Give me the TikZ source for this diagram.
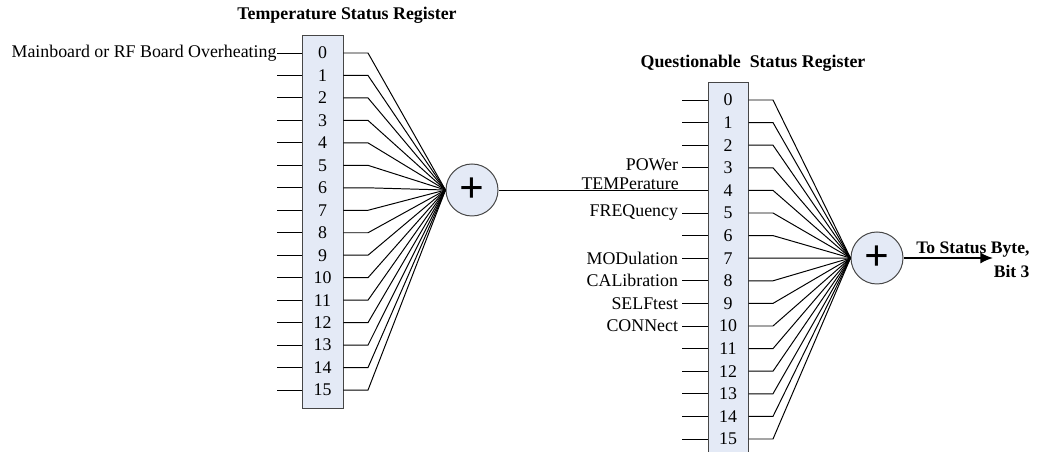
\documentclass[tikz,border=0pt]{standalone}
\usepackage{fontspec}
\setmainfont{Liberation Serif}
\usetikzlibrary{arrows.meta}
\definecolor{regfill}{RGB}{228,234,246}
\definecolor{regline}{RGB}{70,70,70}

\begin{document}
\begin{tikzpicture}[x=0.025cm, y=-0.025cm, line width=0.7pt,
    regbox/.style={draw=regline, fill=regfill, inner sep=0pt},
    bit/.style={inner sep=0pt, font=\fontsize{12.7}{14}\selectfont},
    sum/.style={circle, draw=regline, fill=regfill, minimum size=1.3cm, inner sep=0pt, font=\fontsize{31}{31}\selectfont\bfseries},
    title/.style={font=\fontsize{12.7}{14}\selectfont\bfseries},
    srclabel/.style={anchor=east, inner sep=2.5pt, font=\fontsize{12.7}{14}\selectfont}]
  \useasboundingbox (0,0) rectangle (1042,452);

  % temperature register
  \node[title] (ttitle) at (347,15) {Temperature Status Register};
  \node[regbox, minimum width=1.025cm, minimum height=9.3cm] (treg) at (322.5,222) {};
  \node[sum] (tsum) at (472,190) {+};
  \foreach \i in {0,...,15} {
    \node[bit] (t\i) at (322.5,{53+22.47*\i}) {\i};
    \coordinate (tin\i) at (277,{53+22.47*\i});
    \coordinate (tout\i) at (368,{53+22.47*\i});
    \draw (tin\i) -- (tin\i -| treg.west);
    \draw (tout\i -| treg.east) -- (tout\i) -- (tsum.west);
  }
  \node[srclabel, inner sep=0pt] (tl0) at (tin0) {Mainboard or RF Board Overheating};

  % questionable register
  \node[title] (qtitle) at (753,63) {Questionable\ \ Status Register};
  \node[regbox, minimum width=1cm, minimum height=9.35cm] (qreg) at (728,270) {};
  \node[sum] (qsum) at (877,258) {+};
  \foreach \i in {0,...,15} {
    \node[bit] (q\i) at (728,{100+22.6*\i}) {\i};
    \coordinate (qin\i) at (682,{100+22.6*\i});
    \coordinate (qout\i) at (773,{100+22.6*\i});
    \ifnum\i=4
      \draw (tsum.east) -- (tsum.east -| qreg.west);
    \else
      \draw (qin\i) -- (qin\i -| qreg.west);
    \fi
    \draw (qout\i -| qreg.east) -- (qout\i) -- (qsum.west);
  }
  \foreach \i/\txt in {5/FREQuency,7/MODulation,8/CALibration,9/SELFtest,10/CONNect}
    \node[srclabel] (ql\i) at (qin\i) {\txt};
  \node[srclabel, yshift=2pt] (ql3) at (qin3) {POWer};
  \node[srclabel, anchor=south east, inner sep=0pt, xshift=-2pt] (ql4) at (qin4) {TEMPerature};

  % output
  \coordinate (qend) at (993,258);
  \draw[line width=1.5pt, -{Latex[length=9pt,width=8pt]}] (qsum.east) -- (qend);
  \node[align=right, anchor=east, inner sep=0pt, font=\fontsize{12.5}{17}\selectfont\bfseries] (stb) at (1030,260) {To Status Byte,\\Bit 3};
\end{tikzpicture}
\end{document}
